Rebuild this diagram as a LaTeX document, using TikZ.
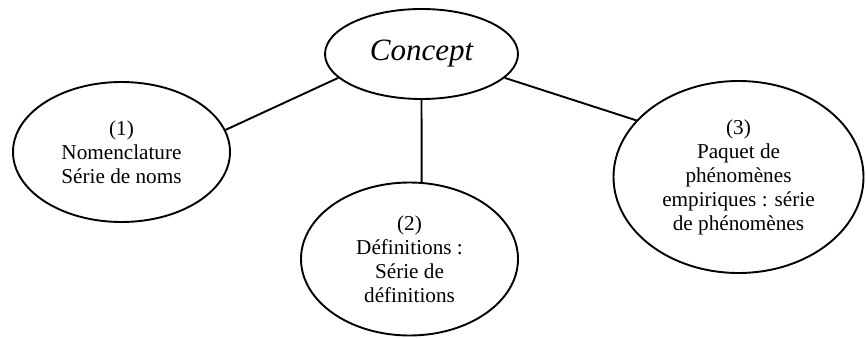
\documentclass[tikz,border=0pt]{standalone}
\usepackage{fontspec}
\setmainfont{Liberation Serif}
\usetikzlibrary{shapes.geometric}
\begin{document}
\begin{tikzpicture}[x=1pt,y=-1pt,
  bubble/.style={ellipse, draw, line width=1.9pt, inner sep=0pt, align=center,
    font=\fontsize{21.2}{24}\selectfont},
  link/.style={line width=1.9pt}]
  \useasboundingbox (0,0) rectangle (866,337);
  % central concept
  \node[bubble, minimum width=193pt, minimum height=90pt,
        font=\fontsize{31}{36}\selectfont\itshape] (c) at (421.5,54) {Concept};
  % the three components
  \node[bubble, minimum width=217pt, minimum height=140pt] (n1) at (121.5,152)
    {(1)\\Nomenclature\\Série de noms};
  \node[bubble, minimum width=217pt, minimum height=153pt] (n2) at (409.5,259)
    {(2)\\Définitions :\\Série de\\définitions};
  \node[bubble, minimum width=250pt, minimum height=192pt] (n3) at (738.5,177)
    {(3)\\Paquet de\\phénomènes\\empiriques : série\\de phénomènes};
  % connectors
  \draw[link] (c.196) -- (n1.12);
  \draw[link] (c.270) -- (n2.81);
  \draw[link] (c.344) -- (n3.151);
\end{tikzpicture}
\end{document}
